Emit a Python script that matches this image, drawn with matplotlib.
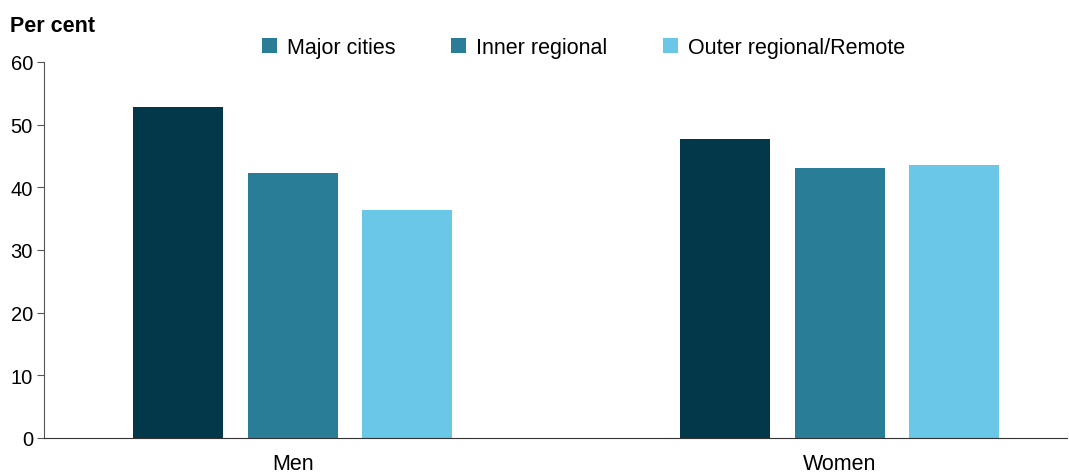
import matplotlib.pyplot as plt
from matplotlib.patches import Patch
import numpy as np

plt.rcParams['font.family'] = ['Liberation Sans', 'DejaVu Sans']

groups = ['Men', 'Women']
series = ['Major cities', 'Inner regional', 'Outer regional/Remote']
values = {
    'Major cities': [52.8, 47.7],
    'Inner regional': [42.3, 43.1],
    'Outer regional/Remote': [36.4, 43.6],
}
colors = ['#03384a', '#2a7d97', '#6ac7e8']
# legend swatch for the first series is shown in the teal colour in the original
legend_colors = ['#2a7d97', '#2a7d97', '#6ac7e8']

fig = plt.figure(figsize=(10.69, 4.77), dpi=100)
ax = fig.add_axes([0.0412, 0.0797, 0.9568, 0.7883])

x = np.arange(len(groups))
w = 0.1645
step = 0.2093
for i, s in enumerate(series):
    ax.bar(x + (i - 1) * step, values[s], width=w, color=colors[i], zorder=2)

ax.set_ylim(0, 60)
ax.set_yticks(range(0, 61, 10))
ax.set_xlim(-0.455, 1.415)
ax.set_xticks(x)
ax.set_xticklabels(groups, fontsize=15.5)
ax.tick_params(axis='x', length=0, pad=11)
ax.tick_params(axis='y', labelsize=14.5, length=5, color='#555555', pad=3)
for sp in ['top', 'right']:
    ax.spines[sp].set_visible(False)
ax.spines['left'].set_color('#555555')
ax.spines['bottom'].set_color('#333333')

fig.text(0.0094, 0.945, 'Per cent', fontsize=15.5, fontweight='bold', va='center', ha='left')

handles = [Patch(facecolor=c, label=s) for c, s in zip(legend_colors, series)]
fig.legend(handles=handles, loc='center', bbox_to_anchor=(0.546, 0.898), ncol=3,
           frameon=False, fontsize=15.5, handlelength=0.7, handleheight=0.7,
           handletextpad=0.45, columnspacing=2.6)

plt.savefig('out.png', dpi=100)
